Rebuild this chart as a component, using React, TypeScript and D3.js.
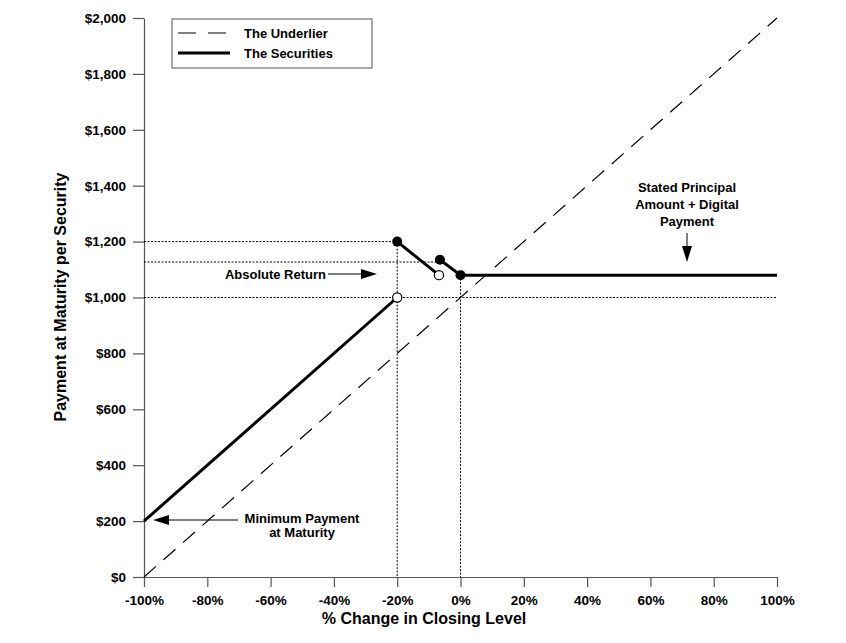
import { useEffect, useRef } from 'react'
import * as d3 from 'd3'

// % change in closing level vs payment at maturity
const xTicks = [-100, -80, -60, -40, -20, 0, 20, 40, 60, 80, 100]
const yTicks = [0, 200, 400, 600, 800, 1000, 1200, 1400, 1600, 1800, 2000]

const underlier: [number, number][] = [[-100, 0], [100, 2000]]

// the securities payoff, drawn as separate pieces
const securitySegments: [number, number][][] = [
  [[-100, 200], [-20, 1000]],
  [[-20, 1200], [-6.8, 1080]],
  [[-6.5, 1135], [0, 1080]],
  [[0, 1080], [100, 1080]],
]
const filledPoints: [number, number][] = [[-20, 1200], [-6.5, 1135], [0, 1080]]
const openPoints: [number, number][] = [[-20, 1000], [-6.8, 1080]]

// dotted guide lines
const hGuides: { y: number; to: number }[] = [
  { y: 1200, to: -20 },
  { y: 1127, to: -6.5 },
  { y: 1000, to: 100 },
]
const vGuides: { x: number; from: number }[] = [
  { x: -20, from: 1200 },
  { x: 0, from: 1080 },
]

const FONT = "'Liberation Sans', Arial, Helvetica, sans-serif"

export default function App() {
  const svgRef = useRef<SVGSVGElement>(null)

  useEffect(() => {
    if (!svgRef.current) return
    const svg = d3.select(svgRef.current)
    svg.selectAll('*').remove()

    const x = d3.scaleLinear().domain([-100, 100]).range([144, 777])
    const y = d3.scaleLinear().domain([0, 2000]).range([577, 18])

    // Axes
    const yAxis = d3.axisLeft(y)
      .tickValues(yTicks)
      .tickSize(11)
      .tickSizeOuter(0)
      .tickPadding(7)
      .tickFormat(d => '$' + d3.format(',')(d as number))

    const xAxis = d3.axisBottom(x)
      .tickValues(xTicks)
      .tickSize(10)
      .tickSizeOuter(0)
      .tickPadding(8)
      .tickFormat(d => `${d}%`)

    const gy = svg.append('g').attr('transform', `translate(${x(-100)},0)`).call(yAxis)
    const gx = svg.append('g').attr('transform', `translate(0,${y(0)})`).call(xAxis)

    ;[gx, gy].forEach(g => {
      g.select('.domain').attr('stroke', '#555').attr('stroke-width', 1.2)
      g.selectAll('.tick line').attr('stroke', '#555').attr('stroke-width', 1.2)
      g.selectAll('.tick text')
        .attr('fill', '#000')
        .style('font-family', FONT)
        .style('font-weight', 'bold')
        .style('font-size', '13.5px')
    })

    // Dotted guides
    const guides = svg.append('g')
      .attr('stroke', '#000')
      .attr('stroke-width', 1)
      .attr('stroke-dasharray', '2,1.5')
    guides.selectAll('.hg')
      .data(hGuides)
      .enter().append('line')
      .attr('x1', x(-100))
      .attr('x2', d => x(d.to))
      .attr('y1', d => y(d.y))
      .attr('y2', d => y(d.y))
    guides.selectAll('.vg')
      .data(vGuides)
      .enter().append('line')
      .attr('x1', d => x(d.x))
      .attr('x2', d => x(d.x))
      .attr('y1', d => y(d.from))
      .attr('y2', y(0))

    const line = d3.line<[number, number]>()
      .x(d => x(d[0]))
      .y(d => y(d[1]))

    // Underlier
    svg.append('path')
      .attr('d', line(underlier))
      .attr('fill', 'none')
      .attr('stroke', '#000')
      .attr('stroke-width', 1.2)
      .attr('stroke-dasharray', '16,10')

    // Securities
    svg.selectAll('.seg')
      .data(securitySegments)
      .enter().append('path')
      .attr('d', d => line(d))
      .attr('fill', 'none')
      .attr('stroke', '#000')
      .attr('stroke-width', 3)

    svg.selectAll('.filled')
      .data(filledPoints)
      .enter().append('circle')
      .attr('cx', d => x(d[0]))
      .attr('cy', d => y(d[1]))
      .attr('r', 5)
      .attr('fill', '#000')

    svg.selectAll('.open')
      .data(openPoints)
      .enter().append('circle')
      .attr('cx', d => x(d[0]))
      .attr('cy', d => y(d[1]))
      .attr('r', 4.6)
      .attr('fill', '#fff')
      .attr('stroke', '#000')
      .attr('stroke-width', 1.2)

    // Annotations
    const label = (tx: number, ty: number, str: string, anchor = 'middle', size = 13) =>
      svg.append('text')
        .attr('x', tx)
        .attr('y', ty)
        .attr('text-anchor', anchor)
        .style('font-family', FONT)
        .style('font-weight', 'bold')
        .style('font-size', `${size}px`)
        .attr('fill', '#000')
        .text(str)

    const arrow = (x1: number, y1: number, x2: number, y2: number) => {
      const ang = Math.atan2(y2 - y1, x2 - x1)
      const len = 16
      const hw = 5
      const bx = x2 - len * Math.cos(ang)
      const by = y2 - len * Math.sin(ang)
      svg.append('line')
        .attr('x1', x1).attr('y1', y1)
        .attr('x2', bx).attr('y2', by)
        .attr('stroke', '#000')
        .attr('stroke-width', 1)
      const px = -Math.sin(ang) * hw
      const py = Math.cos(ang) * hw
      svg.append('path')
        .attr('d', `M${x2},${y2}L${bx + px},${by + py}L${bx - px},${by - py}Z`)
        .attr('fill', '#000')
    }

    label(687, 192, 'Stated Principal')
    label(687, 209, 'Amount + Digital')
    label(687, 226, 'Payment')
    arrow(687, 233, 687, 262)

    label(326, 279, 'Absolute Return', 'end')
    arrow(328, 274, 377, 274)

    label(302, 523, 'Minimum Payment')
    label(302, 537, 'at Maturity')
    arrow(238, 520, 153, 520)

    // Axis titles
    label(424, 624, '% Change in Closing Level', 'middle', 16)
    svg.append('text')
      .attr('transform', 'translate(66,297) rotate(-90)')
      .attr('text-anchor', 'middle')
      .style('font-family', FONT)
      .style('font-weight', 'bold')
      .style('font-size', '16px')
      .attr('fill', '#000')
      .text('Payment at Maturity per Security')

    // Legend
    const lg = svg.append('g')
    lg.append('rect')
      .attr('x', 172).attr('y', 19)
      .attr('width', 200).attr('height', 49)
      .attr('fill', '#fff')
      .attr('stroke', '#555')
      .attr('stroke-width', 1)
    lg.append('line')
      .attr('x1', 178).attr('x2', 229)
      .attr('y1', 33).attr('y2', 33)
      .attr('stroke', '#000')
      .attr('stroke-width', 1.2)
      .attr('stroke-dasharray', '18,12')
    lg.append('line')
      .attr('x1', 178).attr('x2', 230)
      .attr('y1', 53).attr('y2', 53)
      .attr('stroke', '#000')
      .attr('stroke-width', 3)
    label(244, 38, 'The Underlier', 'start')
    label(244, 58, 'The Securities', 'start')
  }, [])

  return (
    <div style={{ position: 'absolute', left: 0, top: 0 }}>
      <svg ref={svgRef} width={846} height={643} style={{ display: 'block', background: '#fff' }} />
    </div>
  )
}
